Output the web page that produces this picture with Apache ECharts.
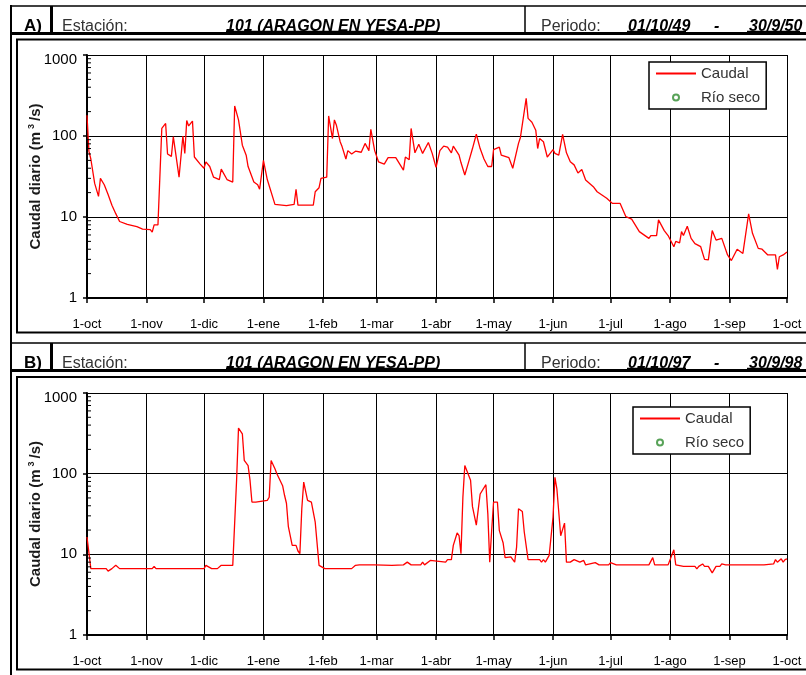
<!DOCTYPE html>
<html>
<head>
<meta charset="utf-8">
<script src="https://cdn.jsdelivr.net/npm/echarts@6/dist/echarts.min.js"></script>
<style>
    html, body { margin: 0; padding: 0; background: #fff; }
    #main { width: 806px; height: 675px; }
</style>
</head>
<body>
<div id="main"></div>
<script>
const FONT = '"Liberation Sans", Arial, sans-serif';

// eje x: meses del año hidrológico (1-oct a 1-oct)
const monthNames = ['oct', 'nov', 'dic', 'ene', 'feb', 'mar', 'abr', 'may', 'jun', 'jul', 'ago', 'sep'];
const monthLengths = [31, 30, 31, 31, 28, 31, 30, 31, 30, 31, 31, 30];
// eje y (log)
const yTickValues = [1, 10, 100, 1000];
const minorTickValues = [2, 3, 4, 5, 6, 7, 8, 9, 20, 30, 40, 50, 60, 70, 80, 90, 200, 300, 400, 500, 600, 700, 800, 900];

// A) 01/10/49 - 30/9/50  [dia desde 1-oct, caudal m3/s]
const caudalA = [
    [0, 180], [1, 65], [2, 52], [4, 26], [6, 18], [7, 30], [9, 25], [11, 19], [13, 14], [15, 11],
    [17, 8.8], [21, 8.1], [26, 7.6], [29, 7.1], [33, 7.0], [34, 6.5], [35, 8.0], [37, 8.0], [39, 124], [41, 143],
    [42, 60], [44, 56], [45, 98], [48, 31], [50, 100], [51, 61], [52, 155], [53, 133], [55, 153], [56, 55],
    [59, 45], [61, 40], [62, 48], [64, 42], [66, 31], [69, 29], [70, 39], [73, 29], [76, 27], [77, 235],
    [79, 158], [81, 77], [83, 58], [84, 42], [87, 27], [89, 25], [90, 22], [91, 22], [92, 50], [94, 29],
    [98, 14.3], [104, 13.8], [108, 14.3], [109, 22], [110, 14], [118, 14], [119, 20.5], [121, 23], [122, 30], [125, 31],
    [126, 177], [128, 93], [129, 158], [130, 137], [132, 85], [133, 74], [135, 52], [136, 66], [138, 60], [140, 65],
    [143, 63], [145, 81], [147, 66], [148, 121], [150, 66], [152, 48], [155, 45], [157, 54], [161, 54], [165, 38],
    [166, 55], [168, 51], [169, 124], [171, 62], [173, 79], [175, 61], [178, 83], [180, 61], [182, 41], [184, 66],
    [186, 75], [188, 73], [190, 62], [191, 75], [194, 58], [195, 47], [197, 33], [199, 48], [201, 70], [203, 105],
    [205, 70], [207, 52], [209, 42], [211, 42], [212, 68], [215, 73], [216, 58], [220, 54], [222, 40], [223, 41],
    [225, 81], [226, 96], [229, 292], [230, 165], [232, 148], [234, 118], [235, 70], [236, 93], [238, 85], [240, 55],
    [241, 55], [243, 68], [244, 61], [246, 58], [248, 105], [250, 62], [252, 48], [254, 44], [256, 35], [258, 38.6],
    [260, 28.6], [264, 23.7], [266, 20.5], [271, 17], [274, 14.7], [278, 14.7], [281, 10.1], [284, 9.4], [288, 6.6], [293, 5.45],
    [294, 5.9], [297, 5.9], [298, 9.2], [301, 6.8], [303, 5.9], [306, 4.3], [307, 5.0], [309, 4.8], [310, 6.6], [311, 5.9],
    [313, 7.7], [315, 5.45], [317, 4.7], [320, 4.3], [322, 3.0], [324, 2.95], [326, 6.8], [328, 5.2], [331, 5.45], [334, 3.4],
    [336, 2.9], [339, 4.0], [342, 3.55], [345, 10.9], [347, 6.3], [350, 4.1], [352, 4.0], [355, 3.4], [359, 3.4], [360, 2.26],
    [361, 3.23], [363, 3.4], [365, 3.7]
];

// B) 01/10/97 - 30/9/98
const caudalB = [
    [0, 16.4], [2, 6.65], [10, 6.65], [11, 6.2], [13, 6.65], [15, 7.3], [16, 7.65], [17, 6.65], [34, 6.65], [35, 7.1],
    [36, 6.65], [61, 6.65], [62, 7.3], [65, 6.65], [68, 6.65], [70, 7.3], [76, 7.3], [78, 83], [79, 367], [81, 312],
    [82, 146], [84, 126], [85, 83], [86, 44.5], [88, 44.5], [89, 46.7], [94, 46.7], [95, 51], [96, 146], [98, 115],
    [99, 100], [102, 71], [103, 54], [104, 43], [105, 22], [107, 12.9], [109, 12.9], [110, 11], [111, 10.2], [112, 36.8],
    [113, 78.6], [115, 46.7], [117, 44.5], [119, 25], [121, 7.3], [122, 7.3], [124, 6.65], [138, 6.65], [140, 7.3], [142, 7.4],
    [150, 7.4], [159, 7.3], [160, 7.4], [165, 7.4], [167, 8.0], [169, 7.4], [174, 7.4], [175, 8.0], [176, 7.4], [179, 8.4],
    [180, 8.0], [187, 8.0], [188, 8.6], [190, 8.6], [191, 12.9], [193, 18.4], [194, 17], [195, 10.2], [196, 51], [197, 126],
    [198, 120], [200, 83], [201, 39], [203, 23], [205, 56], [206, 58], [208, 73], [209, 32], [210, 8.0], [211, 19.7],
    [212, 44.5], [214, 44.5], [215, 19.7], [217, 13.8], [218, 9.1], [221, 9.3], [223, 8.0], [224, 12.3], [225, 36.8], [227, 34],
    [228, 18.9], [230, 8.6], [236, 8.6], [237, 8.0], [238, 8.6], [239, 8.0], [241, 9.7], [243, 29], [244, 90], [245, 65],
    [247, 17], [248, 16.4], [249, 24.4], [250, 8.0], [252, 8.0], [254, 8.6], [255, 8.6], [257, 8.0], [259, 8.4], [260, 7.4],
    [265, 7.9], [267, 7.4], [272, 7.4], [273, 7.9], [276, 7.4], [293, 7.4], [295, 9.1], [296, 7.4], [303, 7.4], [306, 11.4],
    [307, 7.4], [311, 7.1], [317, 7.1], [318, 6.6], [319, 7.1], [321, 7.6], [322, 7.1], [324, 7.1], [326, 5.9], [328, 7.1],
    [329, 7.4], [330, 7.1], [331, 7.6], [333, 7.4], [353, 7.4], [354, 7.6], [358, 7.6], [359, 8.6], [360, 8.0], [362, 8.8],
    [363, 8.0], [364, 8.6], [365, 8.8]
];

// cabeceras de los paneles
const panelLetters = ['A)', 'B)'];
const estacion = '101 (ARAGON EN YESA-PP)';
const periodosInicio = ['01/10/49', '01/10/97'];
const periodosFin = ['30/9/50', '30/9/98'];

// categorías diarias
let days = [];
let monthStarts = {};
monthLengths.forEach((n, m) => {
    monthStarts[days.length] = true;
    for (let d = 1; d <= n; d++) days.push(d + '-' + monthNames[m]);
});
monthStarts[days.length] = true;
days.push('1-oct');
const isMonthStart = (idx) => !!monthStarts[idx];

const grids = [
    { left: 87, right: 19, top: 55, height: 243 },
    { left: 87, right: 19, top: 393, height: 242 }
];

function makeXAxis(i) {
    return {
        type: 'category', gridIndex: i, data: days, boundaryGap: false,
        axisLine: { lineStyle: { color: '#000', width: 2 } },
        axisTick: { interval: isMonthStart, length: 5, lineStyle: { color: '#000', width: 1.5 } },
        axisLabel: { interval: isMonthStart, fontFamily: FONT, fontSize: 13, color: '#000', margin: 20 },
        splitLine: { show: true, interval: isMonthStart, lineStyle: { color: '#000', width: 1 } }
    };
}

function makeYAxis(i) {
    return {
        type: 'log', gridIndex: i, logBase: 10, min: yTickValues[0], max: yTickValues[yTickValues.length - 1],
        name: '{a|Caudal diario (m}{s|3}{a|/s)}', nameLocation: 'middle', nameGap: 43, nameRotate: 90,
        nameMoveOverlap: false,
        nameTextStyle: {
            rich: {
                a: { fontFamily: FONT, fontSize: 15, fontWeight: 'bold', color: '#1a1a1a' },
                s: { fontFamily: FONT, fontSize: 9, fontWeight: 'bold', color: '#1a1a1a', padding: [0, 3, 8, 3] }
            }
        },
        axisLine: { show: true, lineStyle: { color: '#000', width: 2 } },
        axisTick: { show: true, length: 4, lineStyle: { color: '#000', width: 1.5 } },
        axisLabel: {
            fontFamily: FONT, fontSize: 15, color: '#000', margin: 10,
            formatter: (v) => {
                let r = Math.round(v);
                return r === 1000 ? '{top|1000}' : String(r);
            },
            rich: { top: { fontFamily: FONT, fontSize: 15, color: '#000', padding: [10, 0, 0, 0] } }
        },
        splitLine: { show: true, lineStyle: { color: '#000', width: 1 } }
    };
}

function minorTicks(i) {
    return {
        type: 'custom', xAxisIndex: i, yAxisIndex: i, silent: true, z: 5,
        data: minorTickValues.map(v => [0, v]),
        renderItem: (params, api) => {
            let p = api.coord([0, api.value(1)]);
            return {
                type: 'line',
                shape: { x1: p[0], y1: p[1], x2: p[0] + 4, y2: p[1] },
                style: { stroke: '#000', lineWidth: 1 }
            };
        }
    };
}

function caudalSeries(i, data) {
    return {
        name: 'Caudal', type: 'line', xAxisIndex: i, yAxisIndex: i, data: data,
        symbol: 'none', silent: true, z: 4,
        lineStyle: { color: '#ff0000', width: 1.3 },
        itemStyle: { color: '#ff0000' }
    };
}

function makeLegend(left, top) {
    return {
        // el icono de linea sin punto
        data: [{ name: 'Caudal', itemStyle: { opacity: 0 } }, 'Río seco'],
        orient: 'vertical', left: left, top: top,
        itemWidth: 40, itemHeight: 6, itemGap: 9, selectedMode: false,
        backgroundColor: '#fff', borderColor: '#000', borderWidth: 1.5, padding: [4, 6, 4, 6],
        textStyle: { fontFamily: FONT, fontSize: 15, color: '#333' }
    };
}

// marcos y cabeceras
function hline(x1, x2, y, w) {
    return { type: 'line', shape: { x1: x1, y1: y, x2: x2, y2: y }, style: { stroke: '#000', lineWidth: w }, silent: true };
}
function vline(x, y1, y2, w) {
    return { type: 'line', shape: { x1: x, y1: y1, x2: x, y2: y2 }, style: { stroke: '#000', lineWidth: w }, silent: true };
}
function txt(x, y, text, font, color) {
    return { type: 'text', x: x, y: y, silent: true, style: { text: text, font: font, fill: color || '#000', verticalAlign: 'middle' } };
}

let graphics = [vline(11, 5, 675, 2)];
[0, 337].forEach((dy, k) => {
    let bi = 'italic bold 16px ' + FONT;
    graphics.push(
        txt(24, 26 + dy, panelLetters[k], 'bold 17px ' + FONT),
        txt(62, 26.5 + dy, 'Estación:', '16px ' + FONT, '#333'),
        txt(226, 26.5 + dy, estacion, bi),
        txt(541, 26.5 + dy, 'Periodo:', '16px ' + FONT, '#333'),
        txt(628, 26.5 + dy, periodosInicio[k], bi),
        txt(714, 26.5 + dy, '-', bi),
        txt(749, 26.5 + dy, periodosFin[k], bi),
        hline(226, 437, 31.5 + dy, 1.5),
        hline(627, 686, 31.5 + dy, 1.5),
        hline(747, 800, 31.5 + dy, 1.5),
        hline(11, 806, 6 + dy, 1.5),
        hline(11, 806, 33.5 + dy, 3),
        vline(51.5, 6 + dy, 33 + dy, 3),
        vline(525, 6 + dy, 33 + dy, 1.5)
    );
});
graphics.push(
    { type: 'rect', shape: { x: 17, y: 39.5, width: 800, height: 293 }, style: { fill: 'none', stroke: '#000', lineWidth: 2 }, silent: true },
    { type: 'rect', shape: { x: 17, y: 377, width: 800, height: 292.5 }, style: { fill: 'none', stroke: '#000', lineWidth: 2 }, silent: true }
);

let myChart = echarts.init(document.getElementById('main'));
myChart.setOption({
    animation: false,
    backgroundColor: '#fff',
    textStyle: { fontFamily: FONT },
    grid: grids,
    xAxis: [makeXAxis(0), makeXAxis(1)],
    yAxis: [makeYAxis(0), makeYAxis(1)],
    legend: [makeLegend(649, 62), makeLegend(633, 407)],
    series: [
        caudalSeries(0, caudalA),
        caudalSeries(1, caudalB),
        {
            name: 'Río seco', type: 'scatter', xAxisIndex: 0, yAxisIndex: 0, data: [],
            symbol: 'emptyCircle', symbolSize: 6,
            itemStyle: { color: '#2e8b2e', borderWidth: 1.5 }
        },
        minorTicks(0),
        minorTicks(1)
    ],
    graphic: { elements: graphics }
});
</script>
</body>
</html>
